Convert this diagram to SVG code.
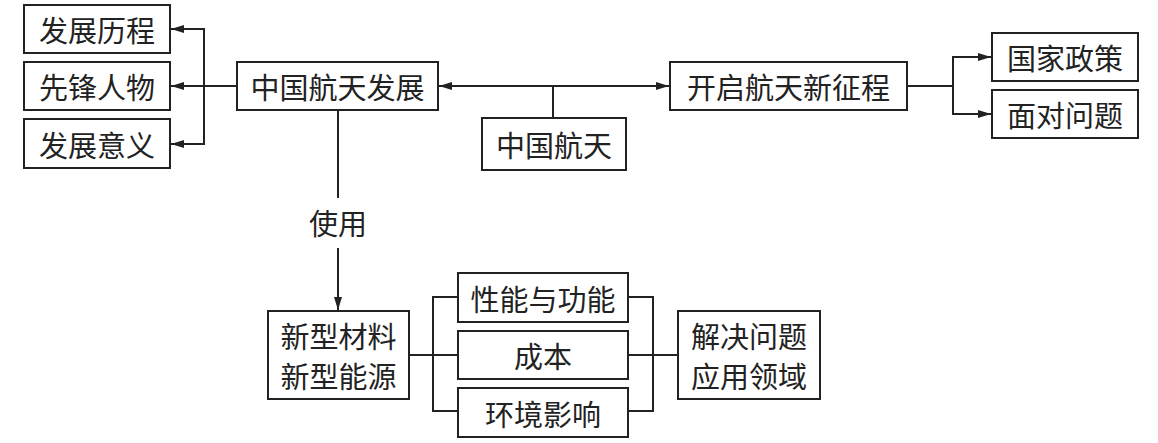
<svg xmlns="http://www.w3.org/2000/svg" width="1158" height="443" viewBox="0 0 1158 443">
<style>
.box{fill:#fff;stroke:#222;stroke-width:2}
.t{font-family:"Noto Sans CJK SC","Noto Sans",sans-serif;font-size:29px;fill:#222;text-anchor:middle;dominant-baseline:central}
.c{fill:none;stroke:#222;stroke-width:2}
</style>
<defs>
<marker id="ah" markerUnits="userSpaceOnUse" markerWidth="14" markerHeight="10" refX="13" refY="5" orient="auto">
<path d="M0,1 L13,5 L0,9 z" fill="#222"/>
</marker>
</defs>
<rect width="1158" height="443" fill="#fff"/>
<g id="connectors">
<path class="c" d="M237,86 H171" marker-end="url(#ah)"/>
<path class="c" d="M204,29 V144"/>
<path class="c" d="M205,29 H171" marker-end="url(#ah)"/>
<path class="c" d="M205,144 H171" marker-end="url(#ah)"/>
<path class="c" d="M553,86 H439" marker-end="url(#ah)"/>
<path class="c" d="M553,86 H669" marker-end="url(#ah)"/>
<path class="c" d="M553,86 V118"/>
<path class="c" d="M907,86 H953"/>
<path class="c" d="M953,56 V115"/>
<path class="c" d="M952,57 H991" marker-end="url(#ah)"/>
<path class="c" d="M952,114 H991" marker-end="url(#ah)"/>
<path class="c" d="M338,110 V198"/>
<path class="c" d="M338,248 V310" marker-end="url(#ah)"/>
<path class="c" d="M409,355 H458"/>
<path class="c" d="M458,297 H433 V411 H458"/>
<path class="c" d="M628,297 H653 V411 H628"/>
<path class="c" d="M628,355 H678"/>
</g>
<g id="n1"><rect class="box" x="24" y="5" width="146" height="48"/><text class="t" x="97" y="29">发展历程</text></g>
<g id="n2"><rect class="box" x="24" y="62" width="146" height="48"/><text class="t" x="97" y="86">先锋人物</text></g>
<g id="n3"><rect class="box" x="24" y="119" width="146" height="49"/><text class="t" x="97" y="143.5">发展意义</text></g>
<g id="n4"><rect class="box" x="237" y="62" width="201" height="48"/><text class="t" x="337.5" y="86">中国航天发展</text></g>
<g id="n5"><rect class="box" x="482" y="118" width="144" height="52"/><text class="t" x="554" y="144">中国航天</text></g>
<g id="n6"><rect class="box" x="670" y="62" width="237" height="48"/><text class="t" x="788.5" y="86">开启航天新征程</text></g>
<g id="n7"><rect class="box" x="992" y="33" width="146" height="48"/><text class="t" x="1065" y="57">国家政策</text></g>
<g id="n8"><rect class="box" x="992" y="90" width="146" height="48"/><text class="t" x="1065" y="114">面对问题</text></g>
<g id="lbl"><text class="t" x="338" y="222">使用</text></g>
<g id="n9"><rect class="box" x="268" y="311" width="141" height="88"/><text class="t" x="338.5" y="335">新型材料</text><text class="t" x="338.5" y="375">新型能源</text></g>
<g id="n10"><rect class="box" x="458" y="273" width="170" height="49"/><text class="t" x="543" y="297.5">性能与功能</text></g>
<g id="n11"><rect class="box" x="458" y="331" width="170" height="48"/><text class="t" x="543" y="355">成本</text></g>
<g id="n12"><rect class="box" x="458" y="388" width="170" height="49"/><text class="t" x="543" y="412.5">环境影响</text></g>
<g id="n13"><rect class="box" x="678" y="311" width="142" height="88"/><text class="t" x="749" y="335">解决问题</text><text class="t" x="749" y="375">应用领域</text></g>
</svg>
